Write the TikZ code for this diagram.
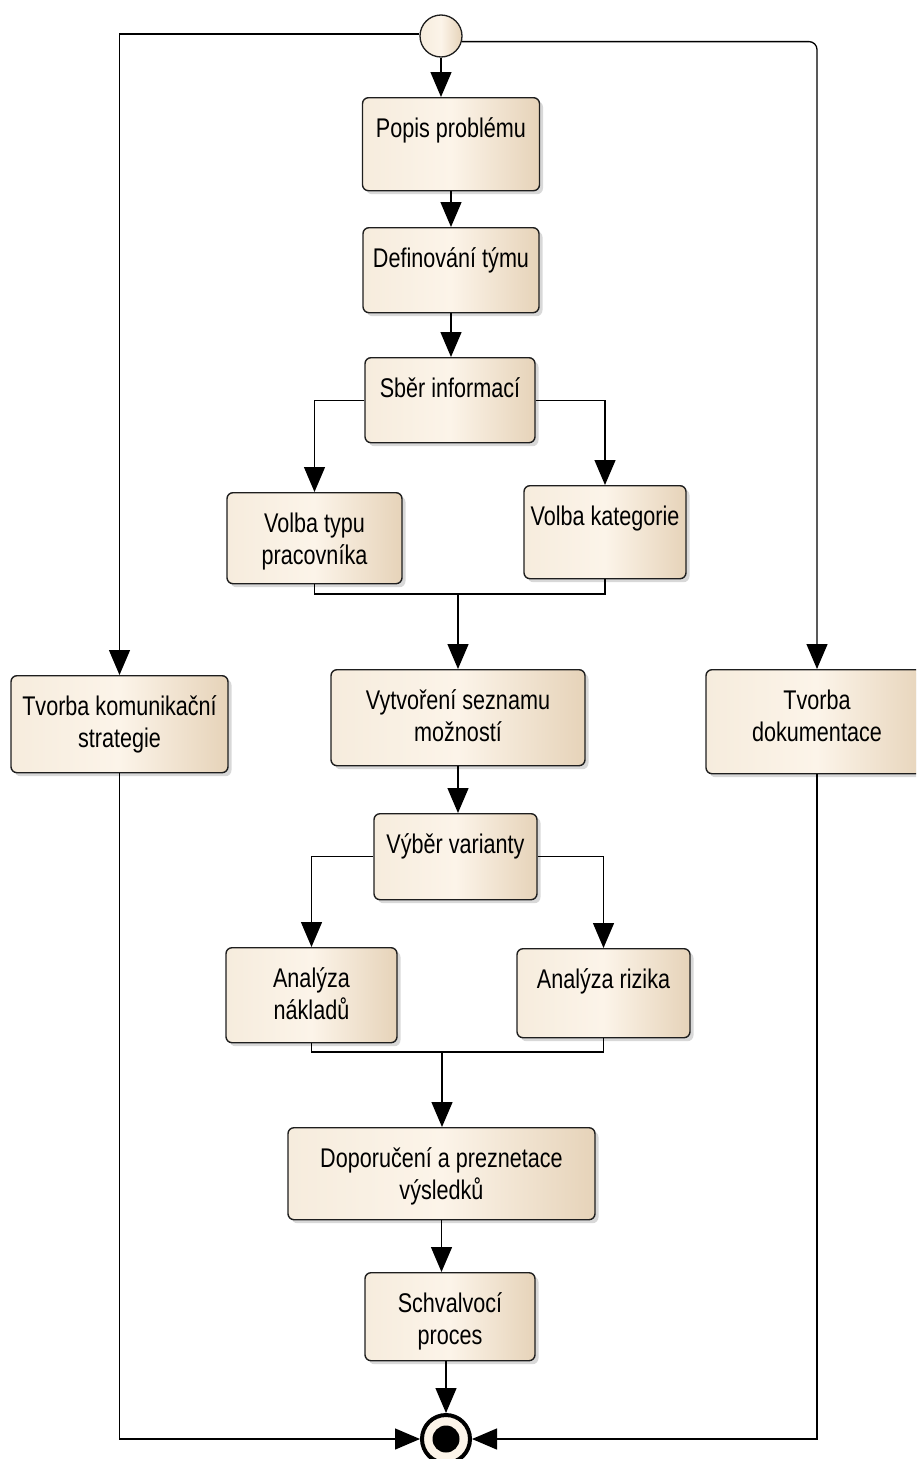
\documentclass[tikz,border=0pt]{standalone}
\usepackage{fontspec}
\setmainfont{Liberation Sans}[FakeStretch=0.8]
\usetikzlibrary{arrows.meta,shadows}

\definecolor{boxL}{HTML}{F6ECDD}
\definecolor{boxM}{HTML}{FCF4E9}
\definecolor{boxR}{HTML}{E6D3B9}
\definecolor{edge}{HTML}{1E1E1E}

\tikzset{
  act/.style={draw=edge, line width=1.4pt, rounded corners=6pt, anchor=north,
    left color=boxL, right color=boxR, middle color=boxM, inner sep=0pt,
    drop shadow={shadow xshift=3.5pt, shadow yshift=-3.5pt, fill=black!30}},
  lbl/.style={anchor=north, inner sep=0pt, align=center,
    font=\fontsize{27}{32}\selectfont},
  flow/.style={line width=1.3pt, draw=black},
  arr/.style={flow, -{Triangle[length=25pt,width=21pt]}},
}

% activity box: name, centre x, top y, width, height, text
\newcommand\actnode[6]{%
  \node[act, minimum width=#4pt, minimum height=#5pt] (#1) at (#2,#3) {};
  \node[lbl] (#1-t) at ([yshift=-14pt]#1.north) {\rule{0pt}{26pt}#6};
}

\begin{document}
\begin{tikzpicture}[x=1pt, y=-1pt]
\useasboundingbox (0,0) rectangle (916,1459);
\clip (0,0) rectangle (916,1459);

% initial and final states
\node[circle, draw=edge, line width=1.3pt, minimum size=42pt, inner sep=0pt,
  left color=boxL, right color=boxR, middle color=boxM] (start) at (441,36) {};
\node[circle, draw=black, line width=4pt, fill=boxM, minimum size=48pt,
  inner sep=0pt] (end) at (446,1439) {};
\node[circle, fill=black, minimum size=27pt, inner sep=0pt] (end-dot) at (end) {};

% activities
\actnode{popis}{451}{97}{177}{93}{Popis problému}
\actnode{def}{451}{227}{176}{85}{Definování týmu}
\actnode{sber}{450}{357}{170}{85}{Sběr informací}
\actnode{volbatyp}{314.5}{492}{175}{91}{Volba typu\\pracovníka}
\actnode{volbakat}{605}{485}{162}{93}{Volba kategorie}
\actnode{vytvoreni}{458}{669}{254}{96}{Vytvoření seznamu\\možností}
\actnode{komun}{119.5}{675}{217}{97}{Tvorba komunikační\\strategie}
\actnode{dok}{817}{669}{222}{104}{Tvorba\\dokumentace}
\actnode{vyber}{455.5}{813}{163}{86}{Výběr varianty}
\actnode{naklady}{311.5}{947}{171}{95}{Analýza\\nákladů}
\actnode{riziko}{603.5}{948}{173}{89}{Analýza rizika}
\actnode{doporuceni}{441.5}{1127}{307}{92}{Doporučení a preznetace\\výsledků}
\actnode{schval}{450}{1272}{170}{88}{Schvalvocí\\proces}

% join points
\coordinate (j1) at (458,594);
\coordinate (j2) at (442,1052);

% control flow
\draw[arr] (start.south) -- (start.south |- popis.north);
\draw[arr] (start.175) -| (komun.north);
\draw[arr, rounded corners=8pt] (start.-15) -| (dok.north);
\draw[arr] (popis.south) -- (popis.south |- def.north);
\draw[arr] (def.south) -- (def.south |- sber.north);
\draw[arr] (sber.west) -| (volbatyp.north);
\draw[arr] (sber.east) -| (volbakat.north);
\draw[flow] (volbatyp.south) |- (j1);
\draw[flow] (volbakat.south) |- (j1);
\draw[arr] (j1) -- (j1 |- vytvoreni.north);
\draw[arr] (vytvoreni.south) -- (vytvoreni.south |- vyber.north);
\draw[arr] (vyber.west) -| (naklady.north);
\draw[arr] (vyber.east) -| (riziko.north);
\draw[flow] (naklady.south) |- (j2);
\draw[flow] (riziko.south) |- (j2);
\draw[arr] (j2) -- (j2 |- doporuceni.north);
\draw[arr] (doporuceni.south) -- (doporuceni.south |- schval.north);
\draw[arr] (end.north |- schval.south) -- (end.north);
\draw[arr] (komun.south) |- (end.west);
\draw[arr] (dok.south) |- (end.east);
\end{tikzpicture}
\end{document}
